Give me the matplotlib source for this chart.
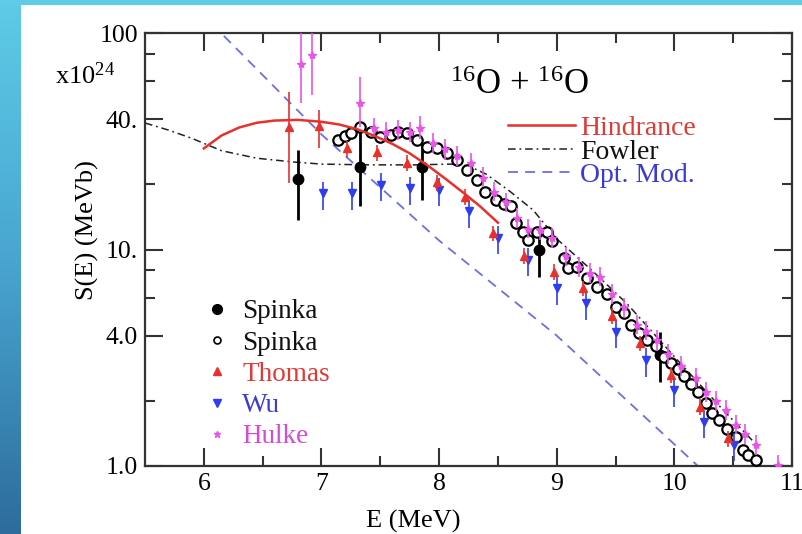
import numpy as np
import matplotlib
matplotlib.use('Agg')
import matplotlib.pyplot as plt
from matplotlib.ticker import FixedLocator, FixedFormatter, NullFormatter
from matplotlib.colors import LinearSegmentedColormap
from matplotlib.lines import Line2D

plt.rcParams['font.family'] = ['Liberation Serif', 'DejaVu Serif']
plt.rcParams['mathtext.fontset'] = 'custom'
plt.rcParams['mathtext.rm'] = 'Liberation Serif'
plt.rcParams['mathtext.it'] = 'Liberation Serif:italic'

# --- 16O + 16O astrophysical S-factor (units of 1e24 MeV b) ---

# Spinka, filled symbols
spf_E = [6.80, 7.33, 7.855, 8.85, 9.88]
spf_S = [21.1, 24.1, 24.1, 9.95, 3.25]
spf_dn = [7.4, 8.3, 7.2, 2.45, 0.8]
spf_up = [7.7, 13.5, 6.9, 1.55, 0.92]

# Spinka, open symbols
spo_E = [7.14, 7.20, 7.25, 7.33, 7.42, 7.50, 7.59, 7.65, 7.73, 7.81, 7.90, 7.98,
         8.07, 8.15, 8.24, 8.32, 8.39, 8.48, 8.55, 8.61, 8.65, 8.71, 8.76, 8.83,
         8.92, 8.96, 9.06, 9.10, 9.17, 9.26, 9.34, 9.43, 9.50, 9.57, 9.63, 9.70,
         9.77, 9.84, 9.91, 9.97, 10.03, 10.08, 10.14, 10.20, 10.27, 10.32, 10.38,
         10.45, 10.52, 10.58, 10.63, 10.69]
spo_S = [32.1, 33.5, 34.5, 36.9, 35.0, 33.2, 33.8, 35.0, 34.4, 32.1, 29.9, 29.3,
         27.8, 25.9, 23.3, 20.9, 18.5, 16.9, 16.3, 15.8, 13.2, 12.1, 11.1, 12.1,
         12.1, 10.9, 9.1, 8.2, 8.3, 7.4, 6.7, 6.2, 5.4, 5.1, 4.5, 4.1,
         3.8, 3.6, 3.2, 3.0, 2.8, 2.6, 2.4, 2.2, 1.95, 1.75, 1.63,
         1.49, 1.36, 1.19, 1.12, 1.07]

# Thomas
th_E = [6.72, 6.98, 7.22, 7.47, 7.73, 7.98, 8.22, 8.46, 8.72, 8.98, 9.22, 9.47,
        9.71, 9.97, 10.22, 10.46]
th_S = [36.9, 37.2, 29.3, 28.1, 25.2, 20.4, 17.5, 11.9, 9.33, 7.9, 6.62, 4.95,
        3.69, 2.63, 1.88, 1.34]
th_dn = [16.7, 7.8, 2.5, 2.4, 2.1, 1.7, 1.5, 1.0, 0.8, 0.65, 0.55, 0.4,
         0.3, 0.22, 0.16, 0.11]
th_up = [16.7, 6.9, 2.5, 2.4, 2.1, 1.7, 1.5, 1.0, 0.8, 0.65, 0.55, 0.4,
         0.3, 0.22, 0.16, 0.11]

# Wu
wu_E = [7.01, 7.26, 7.51, 7.755, 8.0, 8.25, 8.505, 8.76, 9.0, 9.25, 9.5, 9.755,
        10.0, 10.25, 10.51]
wu_S = [18.2, 18.2, 19.9, 19.2, 18.8, 15.0, 11.3, 8.94, 6.62, 5.64, 4.17, 3.09,
        2.24, 1.59, 1.25]
wu_dn = [3.0, 3.0, 3.2, 3.1, 3.0, 2.4, 1.8, 1.4, 1.05, 0.9, 0.67, 0.5,
         0.36, 0.25, 0.2]
wu_up = [2.4, 2.4, 2.6, 2.5, 2.5, 2.0, 1.5, 1.2, 0.9, 0.75, 0.55, 0.41,
         0.3, 0.21, 0.17]

# Hulke
hu_E = [6.83, 6.92, 7.33, 7.45, 7.55, 7.65, 7.75, 7.84, 7.95, 8.05, 8.15, 8.27,
        8.37, 8.47, 8.57, 8.66, 8.76, 8.86, 8.96, 9.08, 9.19, 9.28, 9.37, 9.47,
        9.57, 9.68, 9.76, 9.85, 9.95, 10.06, 10.18, 10.27, 10.35, 10.44, 10.52,
        10.60, 10.69, 10.88]
hu_S = [72, 79, 47.3, 36.5, 35.0, 35.5, 35.0, 36.3, 31.0, 29.0, 27.0, 25.0,
        21.5, 18.5, 16.5, 14.0, 12.5, 12.3, 11.3, 9.3, 8.3, 7.8, 7.5, 6.2,
        5.4, 4.5, 4.2, 3.8, 3.3, 2.9, 2.54, 2.2, 2.0, 1.81, 1.55,
        1.40, 1.25, 1.01]
hu_dn = [24.5, 27.3, 10.4, 3.5, 3.5, 3.5, 3.5, 4.0, 3.0, 3.0, 2.7, 2.5,
         2.0, 1.8, 1.6, 1.4, 1.2, 1.2, 1.1, 0.9, 0.8, 0.8, 0.7, 0.6,
         0.5, 0.45, 0.4, 0.4, 0.33, 0.3, 0.25, 0.22, 0.2, 0.18, 0.15,
         0.14, 0.12, 0.1]
hu_up = [48, 46, 15.5, 4.0, 4.0, 4.0, 4.0, 5.0, 3.5, 3.5, 3.0, 3.0,
         2.5, 2.0, 1.8, 1.6, 1.4, 1.4, 1.3, 1.0, 0.9, 0.9, 0.8, 0.7,
         0.6, 0.5, 0.45, 0.45, 0.37, 0.33, 0.3, 0.25, 0.22, 0.2, 0.17,
         0.16, 0.14, 0.11]

# model curves
hin_E = [6.0, 6.15, 6.3, 6.45, 6.6, 6.8, 7.0, 7.15, 7.3, 7.45, 7.6, 7.75, 7.9,
         8.05, 8.2, 8.35, 8.5]
hin_S = [29.3, 33.6, 36.6, 38.5, 39.4, 39.7, 38.9, 37.8, 36.0, 33.5, 30.8, 27.8,
         24.5, 21.3, 18.4, 15.8, 13.3]

fow_E = [5.5, 5.7, 5.9, 6.15, 6.45, 6.75, 7.0, 7.4, 7.8, 8.1, 8.25, 8.4, 8.6,
         8.8, 9.0, 9.3, 9.6, 10.0, 10.4, 10.7]
fow_S = [38.4, 35.6, 32.6, 28.6, 26.4, 25.4, 24.8, 24.6, 24.6, 24.8, 24.3, 22.3,
         18.6, 15.2, 11.2, 8.0, 5.6, 3.2, 1.85, 1.25]

om_E = [6.17, 7.0, 8.0, 9.0, 10.2]
om_S = [97, 34, 11.0, 4.0, 1.0]

red = '#e8302c'
blue = '#2f3cf0'
mag = '#e855e8'

fig = plt.figure(figsize=(8.02, 5.34), dpi=100)

# slide background strip on the left and top
bg = fig.add_axes([0, 0, 1, 1], zorder=0)
grad = np.linspace(0, 1, 256).reshape(-1, 1)
cmap = LinearSegmentedColormap.from_list('slide', ['#5ecbe7', '#48a4cf', '#2d6c9c'])
bg.imshow(grad, cmap=cmap, extent=(0, 21, 534, 0), aspect='auto')
bg.add_patch(plt.Rectangle((0, 0), 802, 5, color='#5ecbe7', lw=0))
bg.set_xlim(0, 802)
bg.set_ylim(534, 0)
bg.axis('off')

ax = fig.add_axes([145 / 802, 68 / 534, 647 / 802, 433 / 534], zorder=1)
ax.set_yscale('log')
ax.set_xlim(5.5, 11)
ax.set_ylim(1, 100)

l_om, = ax.plot(om_E, om_S, color='#6e6ee6', lw=1.3, ls=(0, (5.5, 4)), zorder=2)
l_fow, = ax.plot(fow_E, fow_S, color='#222222', lw=1.1, ls=(0, (5, 2.5, 1.2, 2.5)), zorder=2)

ax.errorbar(spf_E, spf_S, yerr=[spf_dn, spf_up], fmt='o', color='black', ms=7.5,
            elinewidth=2.0, capsize=0, zorder=3)
ax.plot(spo_E, spo_S, 'o', mfc='white', mec='black', mew=1.6, ms=7.5, zorder=4)
ax.errorbar(hu_E, hu_S, yerr=[hu_dn, hu_up], fmt='*', color=mag, ms=6,
            elinewidth=1.2, capsize=0, zorder=5)
ax.errorbar(wu_E, wu_S, yerr=[wu_dn, wu_up], fmt='v', color=blue, ms=6,
            elinewidth=1.2, capsize=0, zorder=5)
ax.errorbar(th_E, th_S, yerr=[th_dn, th_up], fmt='^', color=red, ms=6,
            elinewidth=1.2, capsize=0, zorder=6)

l_hin, = ax.plot(hin_E, hin_S, color=red, lw=1.8, zorder=7)

# axes styling
ax.xaxis.set_major_locator(FixedLocator([6, 7, 8, 9, 10, 11]))
ax.xaxis.set_minor_locator(FixedLocator([6.5, 7.5, 8.5, 9.5, 10.5]))
ax.yaxis.set_major_locator(FixedLocator([1, 4, 10, 40, 100]))
ax.yaxis.set_major_formatter(FixedFormatter(['1.0', '4.0', '10.', '40.', '100']))
ax.yaxis.set_minor_locator(FixedLocator([2, 6, 8, 20, 60, 80]))
ax.yaxis.set_minor_formatter(NullFormatter())
ax.tick_params(which='both', direction='in', top=True, right=True,
               color='#333333', width=1.5, labelsize=18.5)
ax.tick_params(which='major', length=13, pad=5)
ax.tick_params(which='minor', length=7)
for s in ax.spines.values():
    s.set_linewidth(1.6)
    s.set_color('#333333')

# legends
leg1 = ax.legend([l_hin, l_fow, l_om], ['Hindrance', 'Fowler', 'Opt. Mod.'],
                 loc='upper left', bbox_to_anchor=(0.561, 0.809), frameon=False,
                 fontsize=20, handlelength=2.4, handletextpad=0.2,
                 labelspacing=-0.07, borderpad=0, borderaxespad=0,
                 labelcolor=['#e03a36', '#111111', '#3a3ad6'])
ax.add_artist(leg1)

mk = [Line2D([], [], ls='none', marker='o', color='black', ms=7),
      Line2D([], [], ls='none', marker='o', mfc='none', mec='black', mew=1.2, ms=5),
      Line2D([], [], ls='none', marker='^', color=red, ms=5.5),
      Line2D([], [], ls='none', marker='v', color=blue, ms=5.5),
      Line2D([], [], ls='none', marker='*', color=mag, ms=5)]
ax.legend(mk, ['Spinka', 'Spinka', 'Thomas', 'Wu', 'Hulke'],
          loc='upper left', bbox_to_anchor=(0.099, 0.385), frameon=False,
          fontsize=19.5, handlelength=0.6, handletextpad=0.62, labelspacing=0.23,
          borderpad=0, borderaxespad=0,
          labelcolor=['#111111', '#111111', '#e03a36', '#3a3ad6', '#d64ad6'])

# labels
fig.text(87 / 802, 1 - 230 / 534, 'S(E) (MeVb)', rotation=90, fontsize=19,
         ha='center', va='center')
fig.text(413 / 802, 1 - 521 / 534, 'E (MeV)', fontsize=19, ha='center', va='center')
fig.text(55 / 802, 1 - 84 / 534, r'$\mathrm{x10^{24}}$', fontsize=19,
         ha='left', va='baseline')
fig.text(450 / 802, 1 - 94 / 534, r'$^{16}$O + $^{16}$O', fontsize=25,
         ha='left', va='baseline')

fig.savefig('out.png', dpi=100, facecolor='white')
